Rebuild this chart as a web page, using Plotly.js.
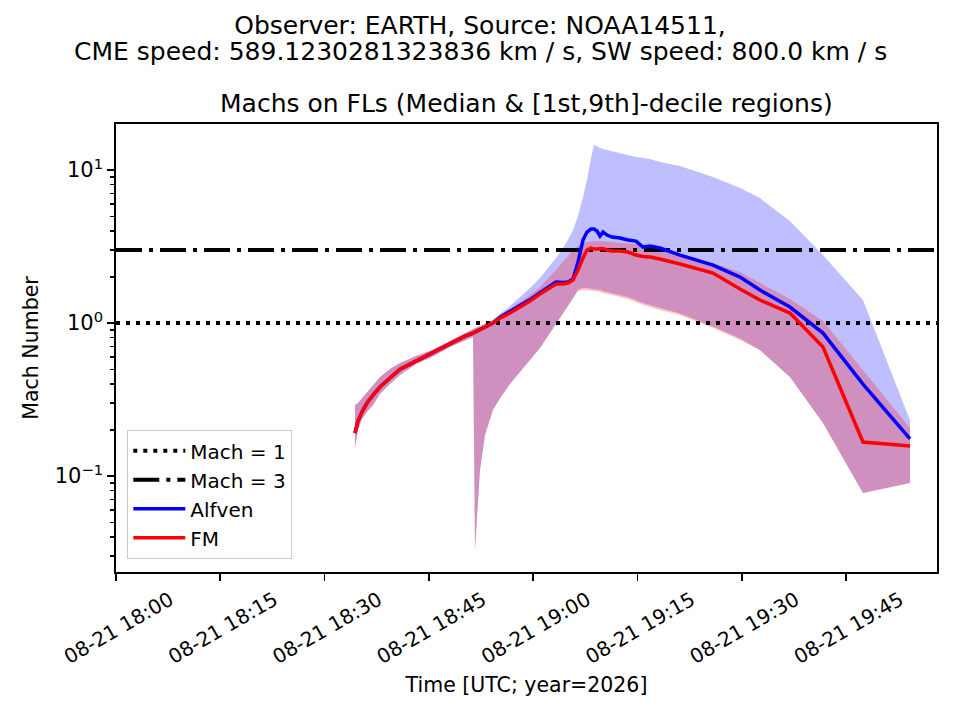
<!DOCTYPE html>
<html>
<head>
<meta charset="utf-8">
<script src="https://cdn.plot.ly/plotly-3.0.1.min.js"></script>
<style>
  body { margin: 0; background: #fff; }
  #machs { width: 960px; height: 720px; }
</style>
</head>
<body>
<div id="machs"></div>
<script>
/* sample times on 2026-08-21 (UTC) */
var day = '2026-08-21 ';
var times = ['18:34:22', '18:34:48', '18:35:23', '18:36:06', '18:36:58', '18:37:58', '18:39:24', '18:40:51', '18:43:09', '18:45:27',
             '18:48:02', '18:50:12', '18:51:21', '18:51:38', '18:52:21', '18:53:04', '18:54:13', '18:55:14', '18:56:40', '18:58:06',
             '18:59:33', '19:00:59', '19:02:08', '19:03:17', '19:04:17', '19:05:00', '19:05:44', '19:06:27', '19:07:10', '19:07:44',
             '19:08:19', '19:08:45', '19:09:11', '19:09:37', '19:10:03', '19:10:37', '19:11:20', '19:12:29', '19:13:38', '19:14:47',
             '19:15:48', '19:16:48', '19:18:14', '19:21:07', '19:25:52', '19:29:45', '19:32:37', '19:36:56', '19:41:41', '19:47:26',
             '19:54:12'];

/* Alfven Mach: median, 1st decile, 9th decile */
var alfMed = [0.191, 0.229, 0.262, 0.300, 0.338, 0.382, 0.437, 0.500, 0.564, 0.637,
              0.729, 0.822, 0.860, 0.873, 0.914, 0.942, 1.000, 1.094, 1.189, 1.301,
              1.424, 1.582, 1.706, 1.854, 1.840, 1.854, 1.940, 2.505, 3.487, 3.934,
              4.116, 4.116, 3.994, 3.704, 3.934, 3.760, 3.649, 3.594, 3.487, 3.435,
              3.139, 3.186, 3.092, 2.782, 2.394, 1.998, 1.643, 1.272, 0.860, 0.399,
              0.175];
var alfLo  = [0.152, 0.200, 0.236, 0.262, 0.291, 0.344, 0.399, 0.457, 0.540, 0.600,
              0.697, 0.774, 0.810, 0.0328, 0.109, 0.185, 0.270, 0.323, 0.399, 0.478,
              0.573, 0.686, 0.822, 0.985, 1.145, 1.272, 1.457, 1.656, 1.693, 1.693,
              1.681, 1.668, 1.668, 1.643, 1.619, 1.594, 1.571, 1.524, 1.479, 1.414,
              1.351, 1.311, 1.253, 1.154, 0.949, 0.792, 0.666, 0.444, 0.222, 0.0774,
              0.0900];
var alfHi  = [0.291, 0.300, 0.323, 0.354, 0.393, 0.444, 0.500, 0.548, 0.609, 0.666,
              0.763, 0.860, 0.914, 0.928, 0.956, 0.985, 1.046, 1.145, 1.291, 1.479,
              1.693, 1.968, 2.288, 2.660, 3.092, 3.487, 4.055, 5.003, 6.661, 8.602,
              11.98, 14.57, 14.35, 13.92, 13.72, 13.51, 13.31, 12.91, 12.53, 12.16,
              11.98, 11.80, 11.28, 10.62, 9.00, 7.63, 6.56, 4.64, 2.78, 1.414,
              0.232];

/* fast-mode Mach: median, 1st decile, 9th decile */
var fmMed  = [0.191, 0.229, 0.262, 0.300, 0.338, 0.382, 0.437, 0.500, 0.564, 0.637,
              0.729, 0.822, 0.860, 0.873, 0.914, 0.942, 1.000, 1.078, 1.162, 1.272,
              1.392, 1.547, 1.668, 1.798, 1.798, 1.826, 1.910, 2.221, 2.660, 3.000,
              3.092, 3.046, 3.046, 3.046, 3.069, 3.000, 2.955, 2.955, 2.911, 2.782,
              2.720, 2.700, 2.620, 2.430, 2.122, 1.668, 1.414, 1.162, 0.697, 0.167,
              0.157];
var fmLo   = [0.152, 0.200, 0.236, 0.262, 0.291, 0.344, 0.399, 0.457, 0.540, 0.600,
              0.697, 0.774, 0.810, 0.0328, 0.109, 0.185, 0.270, 0.323, 0.399, 0.478,
              0.573, 0.686, 0.822, 0.985, 1.145, 1.272, 1.435, 1.619, 1.643, 1.643,
              1.631, 1.619, 1.619, 1.594, 1.571, 1.547, 1.524, 1.479, 1.435, 1.372,
              1.311, 1.272, 1.216, 1.128, 0.928, 0.774, 0.666, 0.444, 0.222, 0.0774,
              0.0900];
var fmHi   = [0.291, 0.300, 0.323, 0.354, 0.393, 0.444, 0.500, 0.548, 0.609, 0.666,
              0.763, 0.860, 0.914, 0.928, 0.956, 0.985, 1.046, 1.128, 1.235, 1.372,
              1.524, 1.720, 1.940, 2.221, 2.505, 2.741, 3.000, 3.186, 3.334, 3.384,
              3.435, 3.435, 3.435, 3.435, 3.435, 3.410, 3.384, 3.334, 3.308, 3.284,
              3.235, 3.186, 3.092, 2.782, 2.466, 2.154, 1.826, 1.435, 1.031, 0.493,
              0.206];

/* reference Mach levels */
var mach1 = 1;
var mach3 = 3;

var xRange = [day + '18:00:00', day + '19:58:05'];
var t = times.map(function (s) { return day + s; });

var font = 'DejaVu Sans, Verdana, sans-serif';

function band(y, extra) {
  var tr = {x: t, y: y, type: 'scatter', mode: 'lines', line: {width: 0}, hoverinfo: 'skip', showlegend: false};
  for (var k in extra) tr[k] = extra[k];
  return tr;
}

var data = [
  band(alfLo, {}),
  band(alfHi, {fill: 'tonexty', fillcolor: 'rgba(0, 0, 255, 0.25)'}),
  band(fmLo, {}),
  band(fmHi, {fill: 'tonexty', fillcolor: 'rgba(255, 0, 0, 0.25)'}),
  {
    x: xRange, y: [mach1, mach1], type: 'scatter', mode: 'lines', name: 'Mach = 1', legendgroup: 'a',
    line: {color: '#000', width: 4, dash: '4px,6px'}
  },
  {
    x: xRange, y: [mach3, mach3], type: 'scatter', mode: 'lines', name: 'Mach = 3', legendgroup: 'b',
    line: {color: '#000', width: 4, dash: '26px,7px,4px,7px'}
  },
  {
    x: t, y: alfMed, type: 'scatter', mode: 'lines', name: 'Alfven', legendgroup: 'c',
    line: {color: 'rgb(0, 0, 255)', width: 3.5}
  },
  {
    x: t, y: fmMed, type: 'scatter', mode: 'lines', name: 'FM', legendgroup: 'd',
    line: {color: 'rgb(255, 0, 0)', width: 3.5}
  }
];

var titleFont = {family: font, size: 25, color: '#000'};

var layout = {
  width: 960,
  height: 720,
  paper_bgcolor: '#fff',
  plot_bgcolor: '#fff',
  font: {family: font, size: 20, color: '#000'},
  margin: {l: 116, r: 23, t: 124, b: 148},
  title: {
    text: 'Observer: EARTH, Source: NOAA14511,',
    font: titleFont,
    x: 0.5, xanchor: 'center', xref: 'container',
    y: 1 - 25 / 720, yanchor: 'middle', yref: 'container'
  },
  annotations: [
    {
      text: 'CME speed: 589.1230281323836 km / s, SW speed: 800.0 km / s',
      xref: 'paper', yref: 'paper', x: (480 - 116) / 821, y: (572 - 52) / 448,
      xanchor: 'center', yanchor: 'middle', showarrow: false, font: titleFont
    },
    {
      text: 'Machs on FLs (Median &amp; [1st,9th]-decile regions)',
      xref: 'paper', yref: 'paper', x: 0.5, y: (572 - 103) / 448,
      xanchor: 'center', yanchor: 'middle', showarrow: false, font: titleFont
    }
  ],
  showlegend: true,
  legend: {
    x: 0.0134, y: 0.029, xanchor: 'left', yanchor: 'bottom',
    bgcolor: 'rgba(255,255,255,0.8)', bordercolor: '#cccccc', borderwidth: 1.3,
    font: {family: font, size: 20, color: '#000'},
    traceorder: 'normal', tracegroupgap: 4, itemwidth: 52
  },
  xaxis: {
    type: 'date',
    range: xRange,
    tick0: day + '18:00:00',
    dtick: 15 * 60 * 1000,
    tickformat: '%m-%d %H:%M',
    tickangle: -30,
    ticklabelshift: 54,
    ticks: 'outside', ticklen: 7, tickwidth: 1.7, tickcolor: '#000',
    showline: true, mirror: true, linecolor: '#000', linewidth: 1.7,
    showgrid: false, zeroline: false,
    tickfont: {family: font, size: 20, color: '#000'},
    title: {text: 'Time [UTC; year=2026]', standoff: 10, font: {family: font, size: 20.5, color: '#000'}}
  },
  yaxis: {
    type: 'log',
    range: [-1.627, 1.301],
    tickmode: 'array',
    tickvals: [0.1, 1, 10],
    ticktext: ['10<sup>\u22121</sup>', '10<sup>0</sup>', '10<sup>1</sup>'],
    ticks: 'outside', ticklen: 7, tickwidth: 1.7, tickcolor: '#000',
    minor: {
      tickmode: 'array',
      tickvals: [0.03, 0.04, 0.05, 0.06, 0.07, 0.08, 0.09, 0.2, 0.3, 0.4, 0.5, 0.6, 0.7, 0.8, 0.9, 2, 3, 4, 5, 6, 7, 8, 9],
      ticks: 'outside', ticklen: 4, tickwidth: 1.2, tickcolor: '#000', showgrid: false
    },
    showline: true, mirror: true, linecolor: '#000', linewidth: 1.7,
    showgrid: false, zeroline: false,
    tickfont: {family: font, size: 21, color: '#000'},
    title: {text: 'Mach Number', standoff: 10, font: {family: font, size: 20.5, color: '#000'}}
  }
};

var options = {
  staticPlot: true,
  displayModeBar: false
};

Plotly.newPlot('machs', data, layout, options);
</script>
</body>
</html>
